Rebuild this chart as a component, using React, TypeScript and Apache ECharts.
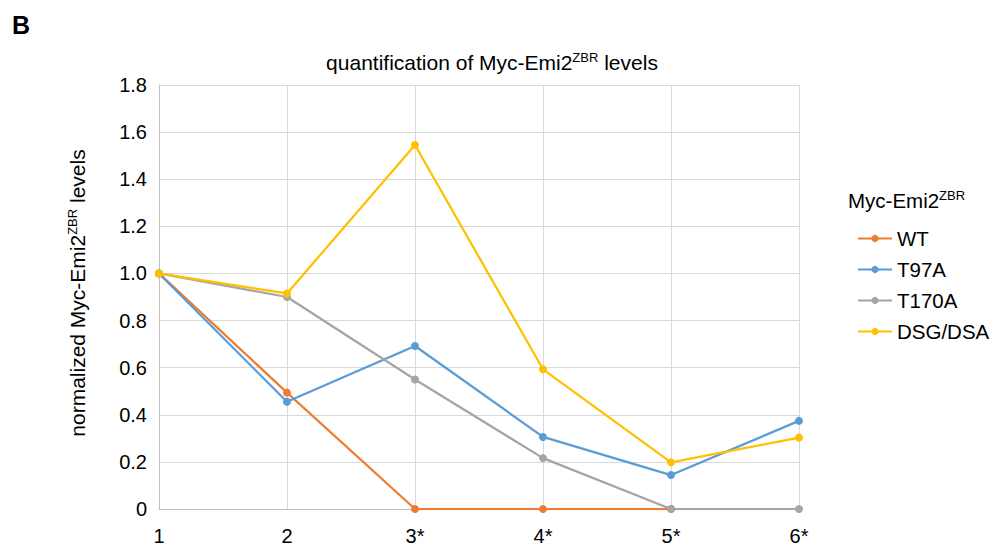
import React, { useEffect, useRef } from "react";
import * as echarts from "echarts";

const categories = ["1", "2", "3*", "4*", "5*", "6*"];
const wt = [1.0, 0.494, 0, 0, 0, null];
const t97a = [1.0, 0.455, 0.692, 0.306, 0.144, 0.374];
const t170a = [1.0, 0.9, 0.55, 0.216, 0, 0];
const dsg = [1.0, 0.915, 1.545, 0.593, 0.198, 0.303];
const seriesNames = ["WT", "T97A", "T170A", "DSG/DSA"];
const seriesData = [wt, t97a, t170a, dsg];
const colors = ["#ED7D31", "#5B9BD5", "#A5A5A5", "#FFC000"];
const yTicks = { min: 0, max: 1.8, interval: 0.2 };

const FONT = "Liberation Sans, Arial, sans-serif";

export default function App() {
  const ref = useRef<HTMLDivElement>(null);
  useEffect(() => {
    if (!ref.current) return;
    const chart = echarts.init(ref.current, null, { renderer: "svg" });
    const sup = { fontSize: 13, verticalAlign: "top", padding: [0, 0, 9, 0], color: "#000", fontFamily: FONT };
    chart.setOption({
      animation: false,
      textStyle: { fontFamily: FONT },
      title: {
        text: "quantification of Myc-Emi2{sup|ZBR} levels",
        left: 487,
        top: 46,
        textAlign: "center",
        textStyle: {
          fontSize: 21,
          fontWeight: "normal",
          color: "#000",
          fontFamily: FONT,
          rich: {
            sup: { ...sup },
          },
        },
      },
      legend: {
        orient: "vertical",
        left: 852,
        top: 223,
        itemGap: 10,
        itemWidth: 34,
        itemHeight: 9,
        data: seriesNames,
        textStyle: { fontSize: 20.5, color: "#000", fontFamily: FONT, padding: [0, 0, 0, 0] },
      },
      grid: { left: 159, right: 196, top: 85, bottom: 41, containLabel: false },
      xAxis: {
        type: "category",
        data: categories,
        boundaryGap: false,
        axisLine: { lineStyle: { color: "#BFBFBF", width: 1 } },
        axisTick: { show: false },
        axisLabel: { color: "#000", fontSize: 20, margin: 17, fontFamily: FONT },
        splitLine: { show: true, lineStyle: { color: "#D9D9D9", width: 1 } },
      },
      yAxis: {
        type: "value",
        min: yTicks.min,
        max: yTicks.max,
        interval: yTicks.interval,
        axisLine: { show: true, lineStyle: { color: "#BFBFBF", width: 1 } },
        axisTick: { show: false },
        axisLabel: {
          color: "#000",
          fontSize: 20,
          margin: 12,
          fontFamily: FONT,
          formatter: (v: number) => (v === 0 ? "0" : v.toFixed(1)),
        },
        splitLine: { show: true, lineStyle: { color: "#D9D9D9", width: 1 } },
      },
      graphic: [
        {
          type: "text",
          left: 12,
          top: 12,
          style: { text: "B", font: `bold 25px ${FONT}`, fill: "#000" },
        },
        {
          type: "text",
          x: 77,
          y: 293,
          rotation: Math.PI / 2,
          style: {
            text: "normalized Myc-Emi2{sup|ZBR} levels",
            font: `21px ${FONT}`,
            fill: "#000",
            align: "center",
            verticalAlign: "middle",
            rich: { sup: { ...sup } },
          },
        },
        {
          type: "text",
          left: 848,
          top: 189,
          style: {
            text: "Myc-Emi2{sup|ZBR}",
            font: `20.5px ${FONT}`,
            fill: "#000",
            rich: { sup: { ...sup } },
          },
        },
      ],
      series: seriesNames.map((name, i) => ({
        name,
        type: "line",
        data: seriesData[i],
        symbol: "circle",
        symbolSize: 8,
        showSymbol: true,
        connectNulls: false,
        lineStyle: { color: colors[i], width: 2.25 },
        itemStyle: { color: colors[i] },
        z: 2 + i,
      })),
    });
    return () => chart.dispose();
  }, []);
  return <div ref={ref} style={{ width: 995, height: 550, position: "absolute", left: 0, top: 0 }} />;
}
